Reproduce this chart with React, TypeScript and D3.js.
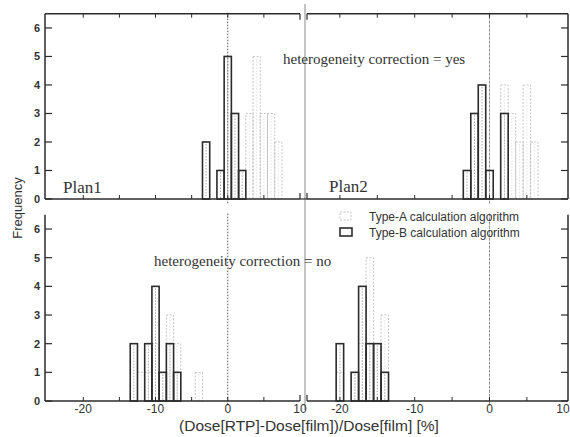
import React from "react";
import * as d3 from "d3";

// histogram bins: bin centre (%) and frequency
const plan1YesTypeA = [
  { bin: 3, n: 3 },
  { bin: 4, n: 5 },
  { bin: 5, n: 3 },
  { bin: 6, n: 3 },
  { bin: 7, n: 2 },
];
const plan1YesTypeB = [
  { bin: -3, n: 2 },
  { bin: -1, n: 1 },
  { bin: 0, n: 5 },
  { bin: 1, n: 3 },
  { bin: 2, n: 1 },
];
const plan2YesTypeA = [
  { bin: 2, n: 4 },
  { bin: 3, n: 3 },
  { bin: 4, n: 2 },
  { bin: 5, n: 4 },
  { bin: 6, n: 2 },
];
const plan2YesTypeB = [
  { bin: -3, n: 1 },
  { bin: -2, n: 3 },
  { bin: -1, n: 4 },
  { bin: 0, n: 1 },
  { bin: 2, n: 3 },
];
const plan1NoTypeA = [
  { bin: -12, n: 1 },
  { bin: -11, n: 1 },
  { bin: -10, n: 2 },
  { bin: -9, n: 1 },
  { bin: -8, n: 3 },
  { bin: -7, n: 2 },
  { bin: -4, n: 1 },
];
const plan1NoTypeB = [
  { bin: -13, n: 2 },
  { bin: -11, n: 2 },
  { bin: -10, n: 4 },
  { bin: -9, n: 1 },
  { bin: -8, n: 2 },
  { bin: -7, n: 1 },
];
const plan2NoTypeA = [
  { bin: -20, n: 1 },
  { bin: -18, n: 1 },
  { bin: -17, n: 2 },
  { bin: -16, n: 5 },
  { bin: -15, n: 2 },
  { bin: -14, n: 3 },
];
const plan2NoTypeB = [
  { bin: -20, n: 2 },
  { bin: -18, n: 1 },
  { bin: -17, n: 4 },
  { bin: -16, n: 2 },
  { bin: -15, n: 2 },
  { bin: -14, n: 1 },
];

const xTicks = [-20, -10, 0, 10];
const xMinorTicks = [-20, -15, -10, -5, 0, 5];
const yTicks = [0, 1, 2, 3, 4, 5, 6];

const DARK = "#2b2b2b";
const LIGHT = "#c4c4c4";
const SERIF = "'Liberation Serif', 'Times New Roman', serif";
const SANS = "'Liberation Sans', Arial, sans-serif";

type Bin = { bin: number; n: number };

const xLeft = d3.scaleLinear().domain([-25.3, 10]).range([45, 300]);
const xRight = d3.scaleLinear().domain([-24.4, 10.5]).range([307, 568]);
const yTop = d3.scaleLinear().domain([0, 6.5]).range([199, 13.7]);
const yBottom = d3.scaleLinear().domain([0, 6.5]).range([401, 214.7]);

const Bars = ({ data, x, y, dark }: { data: Bin[]; x: any; y: any; dark: boolean }) => (
  <g>
    {data.map((d, i) => {
      const x0 = x(d.bin - 0.5);
      const x1 = x(d.bin + 0.5);
      const yt = y(d.n);
      const yb = y(0);
      return (
        <g key={i}>
          <line
            x1={(x0 + x1) / 2}
            x2={(x0 + x1) / 2}
            y1={yt + 2}
            y2={yb}
            stroke={dark ? "#9a9a9a" : "#dcdcdc"}
            strokeWidth={0.8}
            strokeDasharray="1.5,1.5"
          />
          <rect
            x={x0}
            y={yt}
            width={x1 - x0}
            height={yb - yt}
            fill="none"
            stroke={dark ? DARK : LIGHT}
            strokeWidth={dark ? 1.6 : 1}
            strokeDasharray={dark ? undefined : "2,1.5"}
          />
        </g>
      );
    })}
  </g>
);

const Panel = ({
  x,
  y,
  typeA,
  typeB,
  yLabels,
  right,
  top,
}: {
  x: any;
  y: any;
  typeA: Bin[];
  typeB: Bin[];
  yLabels: boolean;
  right: boolean;
  top: boolean;
}) => {
  const [xa, xb] = x.range();
  const [yb, ya] = y.range();
  const yAxisX = right ? xb : xa;
  const dir = right ? -1 : 1;
  return (
    <g>
      {/* zero line */}
      <line
        x1={x(0)}
        x2={x(0)}
        y1={ya - 1}
        y2={yb + 5}
        stroke={right ? "#8c8c8c" : "#555"}
        strokeWidth={1}
        strokeDasharray={right ? "3,1" : "1.5,1.5"}
      />
      <Bars data={typeA} x={x} y={y} dark={false} />
      <Bars data={typeB} x={x} y={y} dark={true} />
      {/* axis frame */}
      <line x1={yAxisX} x2={yAxisX} y1={ya} y2={yb} stroke={DARK} strokeWidth={1.5} />
      <line x1={xa} x2={xb} y1={yb} y2={yb} stroke={DARK} strokeWidth={1.6} />
      {top && <line x1={xa} x2={xb} y1={ya} y2={ya} stroke={DARK} strokeWidth={1.5} />}
      {/* short corner marks on the inner side */}
      <line
        x1={right ? xa : xb}
        x2={right ? xa : xb}
        y1={yb - 6}
        y2={yb}
        stroke={DARK}
        strokeWidth={1.2}
      />
      {top && (
        <line
          x1={right ? xa : xb}
          x2={right ? xa : xb}
          y1={ya}
          y2={ya + 6}
          stroke={DARK}
          strokeWidth={1.2}
        />
      )}
      {yTicks.map((t) => (
        <g key={t}>
          <line
            x1={yAxisX}
            x2={yAxisX + dir * 7}
            y1={y(t)}
            y2={y(t)}
            stroke={DARK}
            strokeWidth={1.2}
          />
          {yLabels && (
            <text
              x={yAxisX - 5}
              y={y(t) + 4}
              textAnchor="end"
              fontFamily={SANS}
              fontWeight="bold"
              fontSize={11}
              fill="#333"
            >
              {t}
            </text>
          )}
        </g>
      ))}
      {xMinorTicks.map((t) => (
        <g key={t}>
          <line x1={x(t)} x2={x(t)} y1={yb} y2={yb - 4} stroke={DARK} strokeWidth={1} />
          {top && <line x1={x(t)} x2={x(t)} y1={ya} y2={ya + 4} stroke={DARK} strokeWidth={1} />}
        </g>
      ))}
      {!top &&
        xTicks.map((t) => (
          <text
            key={t}
            x={Math.min(x(t), 563)}
            y={413}
            textAnchor="middle"
            fontFamily={SANS}
            fontSize={12}
            fill="#333"
          >
            {t}
          </text>
        ))}
    </g>
  );
};

export default function App() {
  return (
    <svg
      width={570}
      height={437}
      style={{ position: "absolute", left: 0, top: 0, background: "#fff" }}
    >
      {/* divider between the two plans */}
      <line x1={305} x2={305} y1={4} y2={410} stroke="#8a8a8a" strokeWidth={1} />
      <line x1={300} x2={307} y1={199} y2={199} stroke={DARK} strokeWidth={1.2} />

      <Panel x={xLeft} y={yTop} typeA={plan1YesTypeA} typeB={plan1YesTypeB} yLabels right={false} top />
      <Panel x={xRight} y={yTop} typeA={plan2YesTypeA} typeB={plan2YesTypeB} yLabels={false} right top />
      <Panel x={xLeft} y={yBottom} typeA={plan1NoTypeA} typeB={plan1NoTypeB} yLabels right={false} top={false} />
      <Panel x={xRight} y={yBottom} typeA={plan2NoTypeA} typeB={plan2NoTypeB} yLabels={false} right top={false} />

      <text x={283} y={64} fontFamily={SERIF} fontSize={15} fill="#333">
        heterogeneity correction = yes
      </text>
      <text x={154} y={266} fontFamily={SERIF} fontSize={15} fill="#333">
        heterogeneity correction = no
      </text>
      <text x={63} y={193} fontFamily={SERIF} fontSize={17} fill="#333">
        Plan1
      </text>
      <text x={329} y={192} fontFamily={SERIF} fontSize={17} fill="#333">
        Plan2
      </text>

      {/* legend */}
      <rect x={340} y={212} width={11} height={8} fill="none" stroke={LIGHT} strokeWidth={1} strokeDasharray="2,1.5" />
      <text x={369} y={221} fontFamily={SANS} fontSize={12} fill="#333">
        Type-A calculation algorithm
      </text>
      <rect x={340} y={228} width={12} height={8} fill="none" stroke={DARK} strokeWidth={1.6} />
      <text x={369} y={237} fontFamily={SANS} fontSize={12} fill="#333">
        Type-B calculation algorithm
      </text>

      <text
        transform="translate(22,208) rotate(-90)"
        textAnchor="middle"
        fontFamily={SANS}
        fontSize={13}
        fill="#333"
      >
        Frequency
      </text>
      <text x={309} y={431} textAnchor="middle" fontFamily={SANS} fontSize={15.5} fill="#333">
        (Dose[RTP]-Dose[film])/Dose[film] [%]
      </text>
    </svg>
  );
}
